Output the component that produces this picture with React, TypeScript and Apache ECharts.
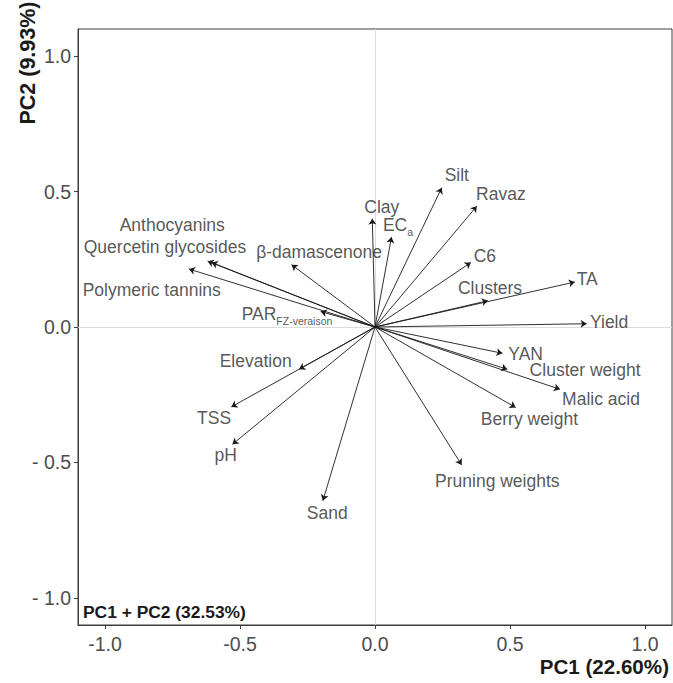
import React, { useEffect, useRef } from "react";
import * as echarts from "echarts";

// PCA loadings (variable vectors) on PC1 / PC2
const variables = [
  "Anthocyanins", "Quercetin glycosides", "Polymeric tannins", "β-damascenone",
  "PAR", "Clay", "EC", "Silt", "Ravaz", "C6", "TA", "Clusters", "Yield", "YAN",
  "Cluster weight", "Malic acid", "Berry weight", "Pruning weights", "Elevation",
  "TSS", "pH", "Sand",
];
const subscripts = [
  "", "", "", "", "FZ-veraison", "", "a", "", "", "", "", "", "", "", "", "", "", "", "", "", "", "",
];
const pc1 = [
  -0.605, -0.62, -0.689, -0.309, -0.201, -0.01, 0.061, 0.247, 0.377, 0.355, 0.74, 0.418, 0.784,
  0.472, 0.49, 0.685, 0.521, 0.321, -0.281, -0.532, -0.528, -0.193,
];
const pc2 = [
  0.238, 0.243, 0.214, 0.23, 0.057, 0.4, 0.332, 0.514, 0.446, 0.238, 0.166, 0.097, 0.012,
  -0.097, -0.156, -0.23, -0.297, -0.509, -0.156, -0.295, -0.433, -0.641,
];
// Text anchor points for each variable name (repelled away from the arrow tips)
const labelPc1 = [
  -0.751, -0.778, -0.827, -0.207, -0.326, 0.025, 0.085, 0.303, 0.466, 0.407, 0.786, 0.426, 0.867,
  0.558, 0.778, 0.837, 0.572, 0.453, -0.442, -0.596, -0.553, -0.177,
];
const labelPc2 = [
  0.374, 0.291, 0.133, 0.273, 0.044, 0.44, 0.371, 0.557, 0.489, 0.26, 0.174, 0.141, 0.014,
  -0.102, -0.161, -0.27, -0.344, -0.573, -0.129, -0.341, -0.477, -0.69,
];
const tickValues = [-1, -0.5, 0, 0.5, 1];
const pc1Title = "PC1 (22.60%)";
const pc2Title = "PC2 (9.93%)";
const totalTitle = "PC1 + PC2 (32.53%)";

const FONT = "'Liberation Sans', Arial, Helvetica, sans-serif";

export default function App() {
  const ref = useRef<HTMLDivElement>(null);

  useEffect(() => {
    document.body.style.margin = "0";
    if (!ref.current) return;
    const chart = echarts.init(ref.current, null, { renderer: "svg" });

    const arrows = variables.map((name, i) => ({
      name,
      coords: [
        [0, 0],
        [pc1[i], pc2[i]],
      ],
    }));

    const labels = variables.map((name, i) => ({
      name,
      value: [labelPc1[i], labelPc2[i]],
      sub: subscripts[i],
    }));

    const fmtY = (v: number) => (v < 0 ? "- " + Math.abs(v).toFixed(1) : v.toFixed(1));

    chart.setOption({
      animation: false,
      backgroundColor: "#ffffff",
      grid: {
        left: 78,
        right: 1,
        top: 29,
        bottom: 58,
        show: true,
        borderColor: "#3d3d3d",
        borderWidth: 1,
        backgroundColor: "transparent",
      },
      xAxis: {
        type: "value",
        min: -1.1,
        max: 1.1,
        splitLine: { show: false },
        axisLine: { onZero: false, lineStyle: { color: "#3d3d3d", width: 1 } },
        axisTick: {
          show: true,
          length: 4,
          customValues: tickValues,
          lineStyle: { color: "#3d3d3d" },
        },
        axisLabel: {
          customValues: tickValues,
          formatter: (v: number) => v.toFixed(1),
          color: "#4d4d4d",
          fontFamily: FONT,
          fontSize: 19.5,
          margin: 9,
        },
      },
      yAxis: {
        type: "value",
        min: -1.1,
        max: 1.1,
        splitLine: { show: false },
        axisLine: { onZero: false, lineStyle: { color: "#3d3d3d", width: 1 } },
        axisTick: {
          show: true,
          length: 4,
          customValues: tickValues,
          lineStyle: { color: "#3d3d3d" },
        },
        axisLabel: {
          customValues: tickValues,
          formatter: fmtY,
          color: "#4d4d4d",
          fontFamily: FONT,
          fontSize: 19.5,
          margin: 7,
        },
      },
      graphic: [
        {
          type: "text",
          x: 28,
          y: 63,
          rotation: Math.PI / 2,
          style: {
            text: pc2Title,
            fontFamily: FONT,
            fontWeight: "bold",
            fontSize: 21.5,
            fill: "#1a1a1a",
            align: "center",
            verticalAlign: "middle",
          },
        },
        {
          type: "text",
          x: 669,
          y: 666,
          style: {
            text: pc1Title,
            fontFamily: FONT,
            fontWeight: "bold",
            fontSize: 20.6,
            fill: "#1a1a1a",
            align: "right",
            verticalAlign: "middle",
          },
        },
        {
          type: "text",
          x: 83,
          y: 612,
          style: {
            text: totalTitle,
            fontFamily: FONT,
            fontWeight: "bold",
            fontSize: 17.4,
            fill: "#1a1a1a",
            align: "left",
            verticalAlign: "middle",
          },
        },
      ],
      series: [
        {
          type: "lines",
          coordinateSystem: "cartesian2d",
          polyline: false,
          silent: true,
          symbol: ["none", "arrow"],
          symbolSize: [0, 6],
          lineStyle: { color: "#1a1a1a", width: 0.9, opacity: 1 },
          data: arrows,
          markLine: {
            silent: true,
            symbol: ["none", "none"],
            label: { show: false },
            lineStyle: { color: "#dcdcdc", type: "solid", width: 1 },
            data: [{ xAxis: 0 }, { yAxis: 0 }],
            z: 1,
          },
          z: 3,
        },
        {
          type: "scatter",
          silent: true,
          symbolSize: 0.1,
          itemStyle: { color: "transparent" },
          data: labels,
          label: {
            show: true,
            position: "inside",
            formatter: (p: any) => {
              const d = p.data;
              return d.sub ? `{b|${d.name}}{s|${d.sub}}` : `{b|${d.name}}`;
            },
            rich: {
              b: {
                fontFamily: FONT,
                fontSize: 17.5,
                lineHeight: 20,
                color: "#2b2b2b",
                verticalAlign: "top",
              },
              s: {
                fontFamily: FONT,
                fontSize: 10.5,
                lineHeight: 12,
                color: "#2b2b2b",
                verticalAlign: "top",
                padding: [10, 0, 0, 0],
              },
            },
          },
          z: 4,
        },
      ],
    });

    return () => chart.dispose();
  }, []);

  return <div ref={ref} style={{ width: 673, height: 683 }} />;
}
